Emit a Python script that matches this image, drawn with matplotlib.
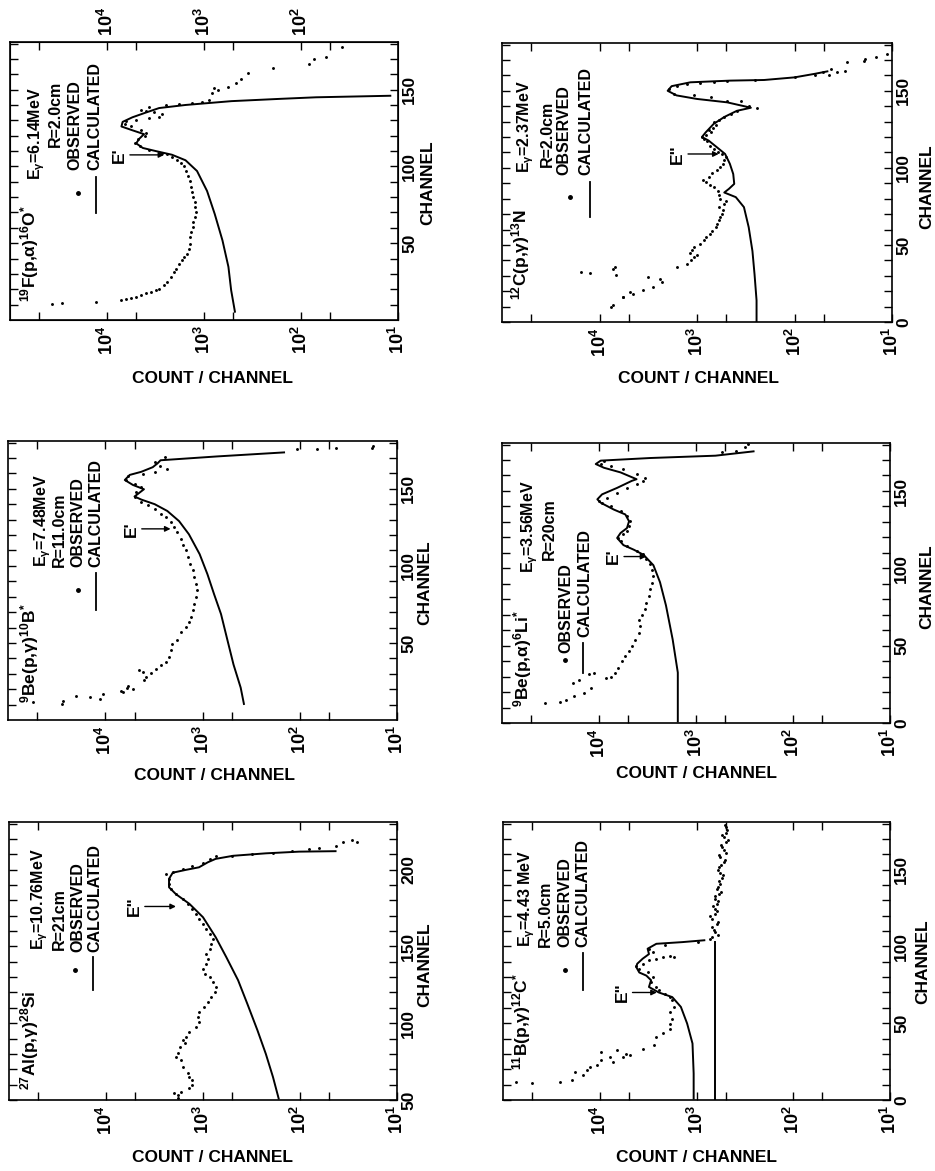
import matplotlib
matplotlib.use("Agg")
import matplotlib.pyplot as plt
from matplotlib.ticker import NullFormatter

W, H = 935, 1171

plt.rcParams['font.family'] = ['Liberation Sans', 'DejaVu Sans']
plt.rcParams['font.weight'] = 'bold'
plt.rcParams['mathtext.fontset'] = 'custom'
plt.rcParams['mathtext.rm'] = 'Liberation Sans:bold'
plt.rcParams['mathtext.it'] = 'Liberation Sans:bold'
plt.rcParams['mathtext.bf'] = 'Liberation Sans:bold'
plt.rcParams['mathtext.default'] = 'bf'

# (channel, count/channel)
F19_OBS = [(10.4, 37000), (10.8, 29000), (11.9, 12900), (13, 7100), (13.4, 6300), (14, 5600),
           (15.1, 5000), (16.2, 4450), (17.3, 3950), (18.3, 3530), (19.4, 3150), (20.5, 2900),
           (22.7, 2570), (24.8, 2380), (28, 2200), (31.3, 2040), (33.4, 1940), (36.7, 1820),
           (38.8, 1690), (41, 1590), (43.1, 1490), (46.4, 1440), (49.6, 1410), (53.9, 1380),
           (57.2, 1350), (60.4, 1310), (63.6, 1290), (66.9, 1240), (70.1, 1210), (73.4, 1240),
           (76.6, 1250), (79.8, 1290), (83.1, 1330), (86.3, 1350), (90.6, 1410), (93.9, 1450),
           (97.1, 1520), (100.3, 1610), (102.5, 1740), (104, 1890), (106.1, 2130), (107.9, 2380),
           (109, 2700), (111, 3650), (113, 4600), (115.4, 5200), (117.6, 4800), (119.7, 4100),
           (121.9, 3950), (124, 4450), (126, 5600), (127.7, 6600), (129.4, 6300), (130.5, 5000),
           (131.6, 3650), (132, 2900), (133.8, 2700), (135.5, 3250), (136.4, 3950), (137, 4450),
           (138.5, 3650), (140.2, 2460), (140.7, 1820), (141.3, 1330), (142, 1050), (143.5, 890),
           (147.8, 830), (150, 710), (151, 790), (151.6, 560), (154.4, 470), (156.6, 415),
           (161, 355), (164, 195), (167, 83), (170, 74), (171.5, 55), (178, 38)]
F19_CALC = [(5.4, 480), (19.4, 525), (34.6, 560), (51.8, 645), (69, 775), (84, 930), (97, 1180),
            (104, 1550), (107.6, 2140), (110, 3150), (112, 4270), (115, 5000), (118, 4650),
            (121, 4150), (123.5, 5460), (126, 7100), (129, 6900), (132, 5460), (135, 4000),
            (138, 2900), (140, 1550), (142.5, 520), (144, 162), (145, 70), (146, 12)]

C12_OBS = [(9.7, 7600), (10.8, 7250), (16, 5700), (16.2, 5800), (18, 4550), (19.4, 4900),
           (20.5, 3550), (22.7, 2800), (26, 2300), (28, 2400), (29, 3150), (30.2, 6700),
           (31.5, 12600), (32.4, 15500), (34.5, 7250), (35.6, 6950), (35.6, 1620), (37.8, 1260),
           (40, 1150), (42, 1070), (43.5, 1000), (45, 1170), (47, 1120), (48.6, 1070), (50.5, 930),
           (53, 850), (55, 800), (57, 730), (59, 700), (61.5, 645), (63.5, 620), (66, 600),
           (68, 580), (70, 550), (72.5, 540), (74.5, 600), (76.7, 525), (78.5, 500), (80, 575),
           (82.5, 600), (85, 615), (87.5, 675), (89, 740), (90.7, 815), (92.4, 870), (94, 760),
           (96.5, 700), (98.5, 620), (100.4, 575), (102.5, 540), (104.8, 525), (107, 500),
           (109, 550), (110.5, 610), (112, 675), (114.5, 740), (117.7, 790), (118.8, 850),
           (120, 890), (121.5, 800), (123, 725), (124.5, 760), (126, 690), (128, 640),
           (129.6, 675), (131, 600), (133, 525), (135, 450), (137, 390), (140, 295), (139, 240),
           (143.6, 355), (143.6, 490), (145.8, 725), (147, 1070), (148, 1740), (151, 1950),
           (153, 1620), (154.4, 1260), (154.9, 930), (155.5, 675), (156.6, 490), (157, 257),
           (158.7, 100), (160, 62), (162, 51), (160, 44), (164, 42), (162, 37), (163, 30),
           (168.5, 29), (169.5, 19.5), (170.6, 19), (171.7, 14.5), (174, 11.3)]
C12_CALC = [(0, 245), (14, 245), (31, 257), (46, 270), (61.5, 295), (74.5, 330), (81, 400),
            (84, 525), (86.4, 470), (89.6, 415), (96, 425), (102.6, 460), (109, 515), (113, 615),
            (117.7, 760), (120, 890), (123, 815), (128.5, 675), (133, 525), (137, 390), (139, 280),
            (142.5, 490), (144.7, 1000), (147, 1620), (150, 2000), (153, 1820), (155.5, 1170),
            (156.6, 455), (157, 205), (158.7, 100), (161, 62), (162.6, 46)]

BE10_OBS = [(11.4, 55000), (10.4, 28000), (12.5, 27000), (15.8, 20000), (14.7, 14500),
            (13.6, 11400), (16.8, 10500), (19, 6900), (18.3, 6600), (20.5, 6000), (22, 5900),
            (20, 5200), (25.9, 3950), (28, 3800), (31.3, 4100), (32.4, 4450), (30.2, 3400),
            (33.4, 3000), (35.6, 2700), (37.8, 2400), (41, 2200), (45.3, 2100), (49.6, 2040),
            (51.8, 1810), (57.2, 1660), (60.4, 1480), (63.6, 1380), (66.9, 1320), (71.2, 1260),
            (75.5, 1230), (79.8, 1170), (84.1, 1150), (88.5, 1170), (92.8, 1230), (97.1, 1260),
            (101.4, 1350), (105.7, 1410), (110, 1480), (113.3, 1590), (117.6, 1660),
            (121.9, 1810), (125.1, 1950), (128.4, 2100), (131.6, 2400), (133.8, 2700),
            (137, 3100), (139.2, 3650), (141.3, 4260), (144.6, 5000), (147.8, 4800), (151, 4260),
            (153.2, 5000), (155.8, 6100), (158.6, 5900), (159.7, 4100), (160.7, 3100),
            (162.9, 2300), (165, 2750), (167.2, 3100), (170.4, 2450), (175.6, 107), (175.6, 66),
            (176.7, 42), (176.7, 18), (177.8, 17.5)]
BE10_CALC = [(10.4, 375), (21, 405), (36, 480), (51, 550), (68.7, 645), (81.6, 760), (94.6, 890),
             (107.6, 1070), (120.5, 1380), (129, 1740), (135.6, 2300), (140, 3100), (143, 4260),
             (145, 5000), (149.7, 4000), (152.5, 5200), (155.7, 6300), (159, 5600), (161, 4270),
             (164, 3250), (166.5, 2900), (168.5, 2700), (171, 705), (173.6, 145)]

LI6_OBS = [(13, 36000), (13.5, 25500), (15, 21700), (17.4, 17900), (19.6, 14200), (22.8, 12100),
           (26, 18600), (28, 15900), (31.5, 12600), (32.6, 11200), (29.1, 8500), (29.8, 7600),
           (32.4, 6800), (35.6, 6300), (39.9, 5800), (43.2, 5350), (46.4, 4900), (49.6, 4600),
           (53.9, 4250), (58.3, 3900), (62.6, 3800), (66.9, 3900), (70.1, 3630), (73.4, 3380),
           (77.7, 3250), (82, 3030), (86.3, 2950), (90.6, 2820), (94.9, 2750), (99.2, 2820),
           (102.5, 2950), (105.7, 3240), (109, 3500), (111, 4100), (114.3, 5150), (117.6, 6000),
           (119.7, 6300), (121.9, 5600), (124, 5150), (127.3, 4900), (130.5, 4800),
           (133.8, 5150), (137, 6000), (140.2, 7600), (142.4, 9300), (143.5, 10000),
           (145.6, 8300), (148.9, 6500), (152, 5150), (154.3, 4100), (156.4, 3500),
           (158.6, 3350), (160.7, 4100), (164, 5600), (166.1, 7600), (167.2, 9600),
           (169.6, 8900), (175, 540), (176, 390), (178.7, 310), (180.4, 290)]
LI6_CALC = [(1, 1540), (32.6, 1540), (54, 1740), (76, 2040), (91, 2350), (102, 2750),
            (108.7, 3470), (112, 4370), (115, 5600), (119.6, 6500), (122.8, 6000), (126, 5150),
            (130.4, 4900), (134.8, 5350), (138, 7050), (142.4, 9600), (144.6, 10400),
            (147.8, 9300), (152, 6500), (156.5, 4600), (157.6, 4100), (162, 6000), (165, 8900),
            (167.4, 10800), (169.6, 9600), (171.3, 2950), (172.8, 630), (175.6, 255)]

AL27_OBS = [(51, 1820), (53.2, 1820), (54.3, 2000), (55.4, 1700), (57.6, 1380), (59.7, 1290),
            (63, 1290), (65, 1380), (67.3, 1440), (71.6, 1620), (76, 1700), (78, 1900),
            (80.3, 1820), (84.6, 1740), (86.8, 1550), (89, 1620), (91, 1510), (94.4, 1380),
            (97.6, 1170), (100.9, 1100), (104, 1120), (107.4, 1100), (110.6, 975), (113.9, 890),
            (117, 830), (120.3, 760), (123.6, 740), (126.8, 790), (130, 850), (132.3, 955),
            (135.5, 1000), (138.7, 930), (142, 890), (145, 930), (148.5, 850), (151.7, 830),
            (155, 790), (158.2, 850), (161.5, 930), (164.7, 1000), (168, 1100), (171.2, 1170),
            (174.5, 1290), (177.7, 1440), (181, 1620), (184.2, 1900), (187.4, 2140),
            (190.7, 2240), (194, 2240), (197, 2400), (198.3, 2040), (200.4, 1620), (202.6, 1290),
            (204, 1000), (207, 850), (208.7, 740), (209, 500), (210.2, 310), (211, 190),
            (212, 120), (213.4, 80), (214, 63), (215.6, 43), (217.7, 36), (219, 29), (217.7, 26)]
AL27_CALC = [(51, 166), (65, 190), (80, 225), (95.5, 275), (112.8, 350), (128, 435), (143, 575),
             (156, 740), (169, 1000), (177.7, 1380), (184, 1900), (188.5, 2240), (194, 2240),
             (198, 2050), (199.8, 1510), (201.5, 1100), (204.8, 890), (207, 740), (209, 490),
             (210.6, 225), (211.7, 102), (212, 43)]

B11_OBS = [(12, 74000), (10.8, 50000), (12, 25700), (13, 19500), (18.4, 18000), (16.2, 14800),
           (19.5, 13700), (21.6, 12600), (22.7, 10800), (26, 9600), (31.4, 9600), (28, 7900),
           (25, 7300), (32.5, 6700), (28, 5800), (30, 5350), (29, 4900), (33.5, 3600),
           (35.7, 2750), (41, 2650), (43.3, 2240), (46.5, 1900), (49.8, 1860), (53, 1780),
           (57.4, 1860), (60.6, 1700), (65, 1780), (67, 1900), (69.3, 2140), (71.4, 2450),
           (73.6, 2650), (76.8, 2950), (80, 2820), (83.3, 3200), (85.5, 3900), (87, 4200),
           (88.7, 3600), (91, 3100), (92, 2650), (93, 2240), (94, 1900), (93, 1700), (96.3, 2820),
           (98.5, 3100), (100.6, 2140), (102.8, 955), (105, 720), (106, 690), (107.5, 600),
           (109.3, 645), (111, 660), (112.5, 690), (114.7, 615), (116, 600), (118, 690),
           (119.5, 720), (121, 645), (122.8, 620), (124.5, 645), (126, 680), (127.7, 615),
           (129.4, 600), (131, 645), (132.5, 640), (134, 590), (135.7, 560), (137.4, 615),
           (139, 600), (140.7, 565), (142.6, 590), (144.6, 550), (146.3, 530), (148, 565),
           (149.8, 600), (151.5, 590), (153, 560), (154.8, 525), (156.4, 510), (158, 565),
           (159.5, 590), (161, 500), (162.8, 520), (164.5, 550), (166, 560), (167.7, 490),
           (169.3, 470), (171, 525), (172.5, 540), (174, 500), (175.7, 480), (177.5, 490),
           (179, 510)]
B11_CALC = [(1, 1070), (17.3, 1070), (36.8, 1100), (49.8, 1250), (60.6, 1450), (67, 1780),
            (70, 2450), (73.6, 3100), (78, 2950), (81, 3300), (83, 3900), (86.6, 4200),
            (88.7, 4100), (92, 3600), (95, 3100), (98.5, 3200), (101.7, 2600), (102.8, 1400),
            (104, 830)]
B11_FLAT = [(0, 650), (102.8, 650)]

COUNT_TICKS = [10, 100, 1000, 10000]
COUNT_LABELS = [r'$10^{1}$', r'$10^{2}$', r'$10^{3}$', r'$10^{4}$']
COUNT_MINOR = [50, 500, 5000, 50000]


def fx(X):
    return X / W


def fy(Y):
    return 1 - Y / H


def split(points):
    ch = [p[0] for p in points]
    ct = [p[1] for p in points]
    return ch, ct


def make_panel(fig, box, ch_range, ch_labels, obs, calc, extra=None):
    L, T, R, B = box
    ax = fig.add_axes([fx(L), fy(B), (R - L) / W, (B - T) / H])
    ax.set_xscale('log')
    ax.set_xlim(1e5, 10)
    ax.set_ylim(*ch_range)

    ch, ct = split(calc)
    ax.plot(ct, ch, '-', color='k', lw=1.4)
    if extra is not None:
        ch, ct = split(extra)
        ax.plot(ct, ch, '-', color='k', lw=1.4)
    ch, ct = split(obs)
    ax.plot(ct, ch, 'o', ls='none', ms=2.1, color='k', mec='none')

    ax.set_xticks(COUNT_TICKS, labels=COUNT_LABELS)
    ax.set_xticks(COUNT_MINOR, minor=True)
    ax.xaxis.set_minor_formatter(NullFormatter())
    ax.set_yticks(ch_labels, labels=[str(v) for v in ch_labels])
    ax.set_yticks(list(range(int(ch_range[0]) + 10, int(ch_range[1]), 10)), minor=True)
    ax.yaxis.set_minor_formatter(NullFormatter())

    ax.tick_params(which='both', direction='in', top=True, bottom=True, left=True, right=True,
                   length=6, width=1)
    ax.tick_params(axis='x', labelrotation=90, labelsize=13, pad=4)
    ax.tick_params(axis='y', labelleft=False, labelright=True, labelrotation=90, labelsize=12.5,
                   pad=3)
    for lbl in ax.get_yticklabels():
        lbl.set_va('center')
    for s in ax.spines.values():
        s.set_linewidth(1.2)
    return ax


def legend_block(fig, items, dot, line):
    for X, Y, s, size in items:
        fig.text(fx(X), fy(Y), s, rotation=90, ha='center', va='bottom', fontsize=size)
    fig.add_artist(plt.Line2D([fx(dot[0])], [fy(dot[1])], marker='o', ms=2.5, color='k',
                              transform=fig.transFigure))
    fig.add_artist(plt.Line2D([fx(line[0]), fx(line[0])], [fy(line[1]), fy(line[2])],
                              color='k', lw=1.3, transform=fig.transFigure))


def mark_edge(ax, label, ch, tail, head):
    ax.annotate(label, xy=(head, ch), xytext=(tail, ch), rotation=90, ha='right', va='center',
                fontsize=12.5,
                arrowprops=dict(arrowstyle='-|>', color='k', lw=1, mutation_scale=8,
                                shrinkA=0, shrinkB=0))


fig = plt.figure(figsize=(W / 100, H / 100), dpi=100)

# 19F(p,a)16O*
ax = make_panel(fig, (10, 42, 398, 320), (0, 181), [50, 100, 150], F19_OBS, F19_CALC)
ax.tick_params(axis='x', top=False)
top = ax.twiny()
top.set_xscale('log')
top.set_xlim(1e5, 10)
top.set_xticks([100, 1000, 10000], labels=COUNT_LABELS[1:])
top.set_xticks(COUNT_MINOR, minor=True)
top.xaxis.set_minor_formatter(NullFormatter())
top.tick_params(axis='x', which='both', direction='in', length=6, width=1, labelrotation=90,
                labelsize=13, pad=4)
mark_edge(ax, "E'", 107.5, 6200, 2570)
legend_block(fig, [(30, 302, r'$^{19}$F(p,α)$^{16}$O$^{*}$', 12.5),
                   (37, 180, r'E$_{\gamma}$=6.14MeV', 11.5),
                   (55, 147, 'R=2.0cm', 11.5),
                   (75, 170, 'OBSERVED', 11.5),
                   (95, 170, 'CALCULATED', 11.5)],
             (78, 193), (96, 177, 213))

# 12C(p,g)13N
ax = make_panel(fig, (502, 43, 892, 322), (0, 181), [0, 50, 100, 150], C12_OBS, C12_CALC)
mark_edge(ax, 'E"', 109, 1320, 600)
legend_block(fig, [(521, 300, r'$^{12}$C(p,γ)$^{13}$N', 12.5),
                   (526, 173, r'E$_{\gamma}$=2.37MeV', 11.5),
                   (547, 167, 'R=2.0cm', 11.5),
                   (564, 175, 'OBSERVED', 11.5),
                   (586, 175, 'CALCULATED', 11.5)],
             (570, 197), (590, 182, 217))

# 9Be(p,g)10B*
ax = make_panel(fig, (8, 441, 397, 720), (0, 181), [50, 100, 150], BE10_OBS, BE10_CALC)
mark_edge(ax, "E'", 124, 4500, 2130)
legend_block(fig, [(30, 703, r'$^{9}$Be(p,γ)$^{10}$B$^{*}$', 12.5),
                   (43, 567, r'E$_{\gamma}$=7.48MeV', 11.5),
                   (59, 567, 'R=11.0cm', 11.5),
                   (78, 567, 'OBSERVED', 11.5),
                   (96, 567, 'CALCULATED', 11.5)],
             (78, 590), (96, 573, 610))

# 9Be(p,a)6Li*
ax = make_panel(fig, (502, 443, 890, 723), (0, 181), [0, 50, 100, 150], LI6_OBS, LI6_CALC)
mark_edge(ax, "E'", 107.6, 5900, 3250)
legend_block(fig, [(523, 707, r'$^{9}$Be(p,α)$^{6}$Li$^{*}$', 12.5),
                   (530, 573, r'E$_{\gamma}$=3.56MeV', 11.5),
                   (549, 560, 'R=20cm', 11.5),
                   (566, 653, 'OBSERVED', 11.5),
                   (585, 637, 'CALCULATED', 11.5)],
             (565, 660), (583, 643, 673))

# 27Al(p,g)28Si
ax = make_panel(fig, (9, 822, 397, 1100), (50, 231), [50, 100, 150, 200], AL27_OBS, AL27_CALC)
mark_edge(ax, 'E"', 176, 4250, 1900)
legend_block(fig, [(30, 1090, r'$^{27}$Al(p,γ)$^{28}$Si', 12.5),
                   (40, 950, r'E$_{\gamma}$=10.76MeV', 11.5),
                   (59, 950, 'R=21cm', 11.5),
                   (78, 952, 'OBSERVED', 11.5),
                   (95, 952, 'CALCULATED', 11.5)],
             (75, 970), (93, 957, 990))

# 11B(p,g)12C*
ax = make_panel(fig, (503, 822, 890, 1100), (0, 181), [0, 50, 100, 150], B11_OBS, B11_CALC,
                extra=B11_FLAT)
mark_edge(ax, 'E"', 70, 4900, 2570)
legend_block(fig, [(522, 1070, r'$^{11}$B(p,γ)$^{12}$C$^{*}$', 12.5),
                   (527, 947, r'E$_{\gamma}$=4.43 MeV', 11.5),
                   (545, 947, 'R=5.0cm', 11.5),
                   (565, 947, 'OBSERVED', 11.5),
                   (583, 947, 'CALCULATED', 11.5)],
             (565, 970), (583, 953, 990))

# axis titles
for X, Y in [(212, 378), (698, 378), (215, 775), (697, 773), (212, 1157), (696, 1157)]:
    fig.text(fx(X), fy(Y), 'COUNT / CHANNEL', ha='center', va='center', fontsize=12.5)
for X, Y in [(428, 183), (927, 187), (425, 583), (927, 587), (425, 965), (923, 962)]:
    fig.text(fx(X), fy(Y), 'CHANNEL', ha='center', va='center', rotation=90, fontsize=12.5)

fig.savefig('out.png', dpi=100)
